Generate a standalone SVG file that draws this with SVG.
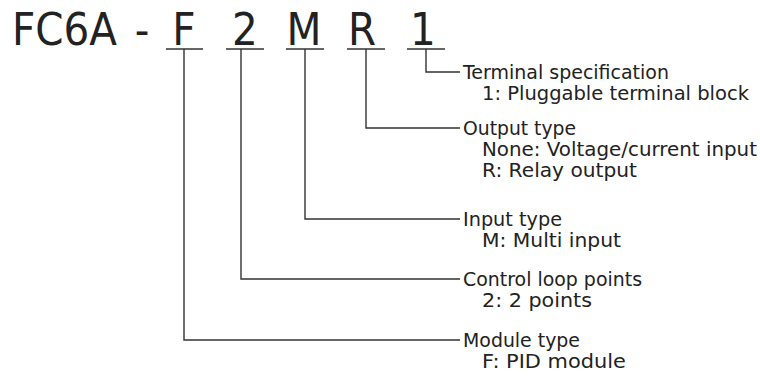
<svg xmlns="http://www.w3.org/2000/svg" width="760" height="378" viewBox="0 0 760 378">
<style>
.t{font-family:"DejaVu Sans Condensed","DejaVu Sans",sans-serif;fill:#222;}
.big{font-size:45px;}
.lbl{font-family:"DejaVu Sans",sans-serif;font-size:19px;}
.ln{stroke:#333;stroke-width:1.4;fill:none;}
</style>
<rect width="760" height="378" fill="#fff"/>
<g id="title" class="t big">
<text x="12" y="45">FC6A</text>
<text x="142" y="45" text-anchor="middle">-</text>
<text x="184" y="45" text-anchor="middle">F</text>
<text x="245" y="45" text-anchor="middle">2</text>
<text x="304" y="45" text-anchor="middle">M</text>
<text x="362" y="45" text-anchor="middle">R</text>
<text x="423" y="45" text-anchor="middle">1</text>
</g>
<g id="connectors" class="ln">
<line x1="166" y1="49" x2="203" y2="49"/>
<line x1="226" y1="49" x2="264" y2="49"/>
<line x1="286" y1="49" x2="324" y2="49"/>
<line x1="347" y1="49" x2="385" y2="49"/>
<line x1="407" y1="49" x2="445" y2="49"/>
<polyline points="426,49 426,72 460,72"/>
<polyline points="366,49 366,128 460,128"/>
<polyline points="305,49 305,219 460,219"/>
<polyline points="241,49 241,279 460,279"/>
<polyline points="184,49 184,340 460,340"/>
</g>
<g id="terminal" class="t lbl">
<text x="463" y="79" textLength="206" lengthAdjust="spacingAndGlyphs">Terminal specification</text>
<text x="482" y="100" textLength="267" lengthAdjust="spacingAndGlyphs">1: Pluggable terminal block</text>
</g>
<g id="output" class="t lbl">
<text x="463" y="135" textLength="113" lengthAdjust="spacingAndGlyphs">Output type</text>
<text x="482" y="156" textLength="275" lengthAdjust="spacingAndGlyphs">None: Voltage/current input</text>
<text x="482" y="177" textLength="155" lengthAdjust="spacingAndGlyphs">R: Relay output</text>
</g>
<g id="input" class="t lbl">
<text x="463" y="226" textLength="99" lengthAdjust="spacingAndGlyphs">Input type</text>
<text x="482" y="247" textLength="139" lengthAdjust="spacingAndGlyphs">M: Multi input</text>
</g>
<g id="control" class="t lbl">
<text x="463" y="286" textLength="179" lengthAdjust="spacingAndGlyphs">Control loop points</text>
<text x="482" y="307" textLength="110" lengthAdjust="spacingAndGlyphs">2: 2 points</text>
</g>
<g id="module" class="t lbl">
<text x="463" y="347" textLength="117" lengthAdjust="spacingAndGlyphs">Module type</text>
<text x="482" y="368" textLength="144" lengthAdjust="spacingAndGlyphs">F: PID module</text>
</g>
</svg>
